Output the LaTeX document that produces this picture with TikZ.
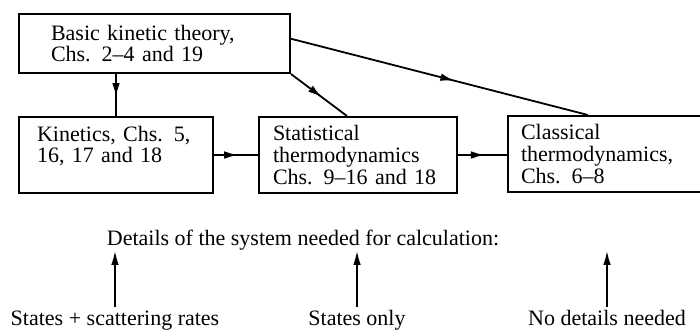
\documentclass[tikz,border=0pt]{standalone}
\usepackage{fontspec}
\setmainfont{Liberation Serif}
\usetikzlibrary{arrows.meta, positioning, calc, decorations.markings}

\begin{document}
\begin{tikzpicture}[x=0.5pt, y=-0.5pt, font=\fontsize{11pt}{10.8pt}\selectfont, >={Latex[length=7pt, width=3.8pt]},
		box/.style={draw, line width=1pt, anchor=north west, align=left, inner ysep=0pt},
		label/.style={anchor=base},
		link/.style={draw, line width=0.9pt},
		midarrow/.style={postaction={decorate}, decoration={markings, mark=at position 0.55 with {\arrow{>}}}}]
		\path[use as bounding box, clip] (0,0) rectangle (700,329);
		\node[box, minimum width=135.5pt, minimum height=29.5pt, text width=103.5pt, inner xsep=16pt] (theory) at (18,13) {Basic kinetic theory,\\Chs. 2--4 and 19};
		\node[box, minimum width=97pt, minimum height=38pt, text width=79pt, inner xsep=9pt] (kinetics) at (18,116) {Kinetics, Chs. 5,\\16, 17 and 18\\\mbox{}};
		\node[box, minimum width=99pt, minimum height=38pt, text width=85pt, inner xsep=7pt] (stat) at (258,116) {Statistical\\thermodynamics\\Chs. 9--16 and 18};
		\node[box, minimum width=100pt, minimum height=38pt, text width=87pt, inner xsep=6.5pt] (classical) at (507,115) {Classical\\thermodynamics,\\Chs. 6--8};
		\node[label] (details) at (303,245) {Details of the system needed for calculation:};
		\node[label] (rates) at (115,325) {States + scattering rates};
		\node[label] (states) at (357,325) {States only};
		\node[label] (none) at (607,325) {No details needed};
		% links between the boxes
		\path [link, midarrow] (kinetics.north |- theory.south) -- (kinetics.north);
		\path [link, midarrow] (theory.south east) -- ($(stat.north west)+(89,0)$);
		\path [link, midarrow] (theory.2) -- ($(classical.north west)+(81,0)$);
		\path [link, midarrow] (kinetics) -- (stat);
		\path [link, midarrow] (stat.east) -- (stat.east -| classical.west);
		% what each level needs
		\path [link, ->, shorten <=-2pt, shorten >=-3pt] (rates) -- (rates |- details.south);
		\path [link, ->, shorten <=-2pt, shorten >=-3pt] (states) -- (states |- details.south);
		\path [link, ->, shorten <=-2pt, shorten >=-3pt] (none) -- (none |- details.south);
	\end{tikzpicture}
\end{document}
